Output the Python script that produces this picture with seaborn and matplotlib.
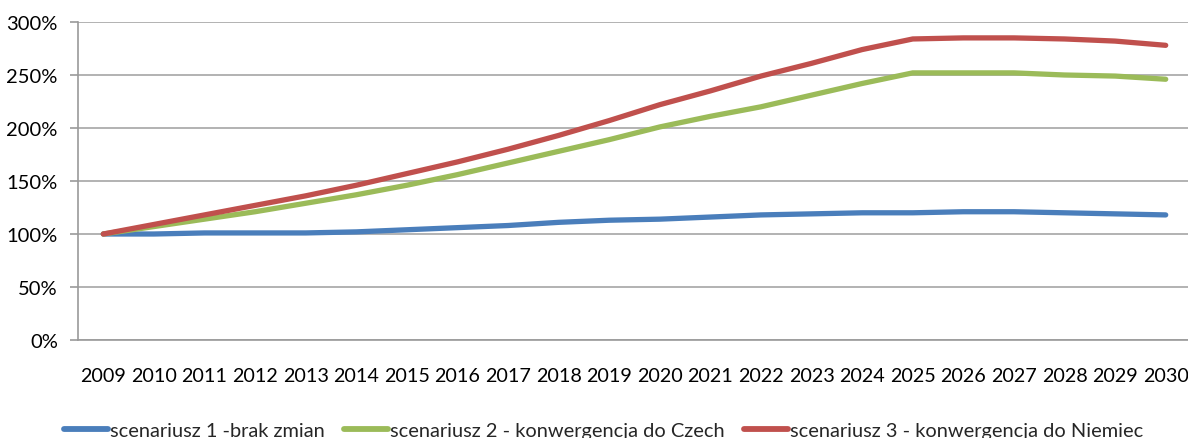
import matplotlib
matplotlib.use("Agg")
import matplotlib.pyplot as plt
import seaborn as sns
import pandas as pd
from matplotlib.ticker import FixedLocator, FuncFormatter

years = list(range(2009, 2031))
scen1 = [100, 100, 101, 101, 101, 102, 104, 106, 108, 111, 113, 114, 116, 118, 119, 120, 120, 121, 121, 120, 119, 118]
scen2 = [100, 107, 114, 121, 129, 137, 146, 156, 167, 178, 189, 201, 211, 220, 231, 242, 252, 252, 252, 250, 249, 246]
scen3 = [100, 109, 118, 127, 136, 146, 157, 168, 180, 193, 207, 222, 235, 249, 261, 274, 284, 285, 285, 284, 282, 278]
names = ["scenariusz 1 -brak zmian", "scenariusz 2 - konwergencja do Czech", "scenariusz 3 - konwergencja do Niemiec"]
colors = ["#4a7ebb", "#9bbb59", "#c0504d"]
yticks = [0, 50, 100, 150, 200, 250, 300]

df = pd.concat([
    pd.DataFrame({"year": years, "value": vals, "series": n})
    for vals, n in zip([scen1, scen2, scen3], names)
])

sns.set_style("white")
plt.rcParams["font.family"] = ["Lato", "DejaVu Sans"]

fig = plt.figure(figsize=(11.88, 4.39), dpi=100)
ax = fig.add_axes([78/1188, 1-341/439, 1113/1188, (341-23)/439])

sns.lineplot(data=df, x="year", y="value", hue="series", palette=colors,
             linewidth=3.8, ax=ax, legend=False, solid_capstyle="round", zorder=3)

ax.set_xlim(2008.5, 2030.5)
ax.set_ylim(0, 300)
ax.set_yticks(yticks)
ax.yaxis.set_major_formatter(FuncFormatter(lambda v, p: f"{int(v)}%"))
ax.set_xticks(years)
ax.set_xticklabels([str(y) for y in years])
ax.xaxis.set_minor_locator(FixedLocator([y - 0.5 for y in years] + [years[-1] + 0.5]))
ax.tick_params(axis="x", which="major", length=0, pad=19.5, labelsize=14.2, colors="#000000")
ax.tick_params(axis="x", which="minor", length=5.5, width=1.2, color="#9a9a9a", direction="out")
ax.tick_params(axis="y", which="major", length=5.5, width=1.2, color="#9a9a9a", pad=9,
               labelsize=14.5, labelcolor="#000000", direction="out", left=True)
ax.set_xlabel("")
ax.set_ylabel("")
ax.grid(axis="y", color="#a6a6a6", linewidth=1.2, zorder=0)
ax.grid(axis="x", visible=False)
for s in ["top", "right"]:
    ax.spines[s].set_visible(False)
for s in ["left", "bottom"]:
    ax.spines[s].set_color("#9a9a9a")
    ax.spines[s].set_linewidth(1.2)

handles = [plt.Line2D([0], [0], color=c, linewidth=4.2, solid_capstyle="round") for c in colors]
fig.legend(handles, names, loc="center", bbox_to_anchor=(0.508, 0.016), ncol=3, frameon=False,
           fontsize=14.4, handlelength=2.2, handletextpad=0.1, columnspacing=0.95)

fig.savefig("out.png", dpi=100)
